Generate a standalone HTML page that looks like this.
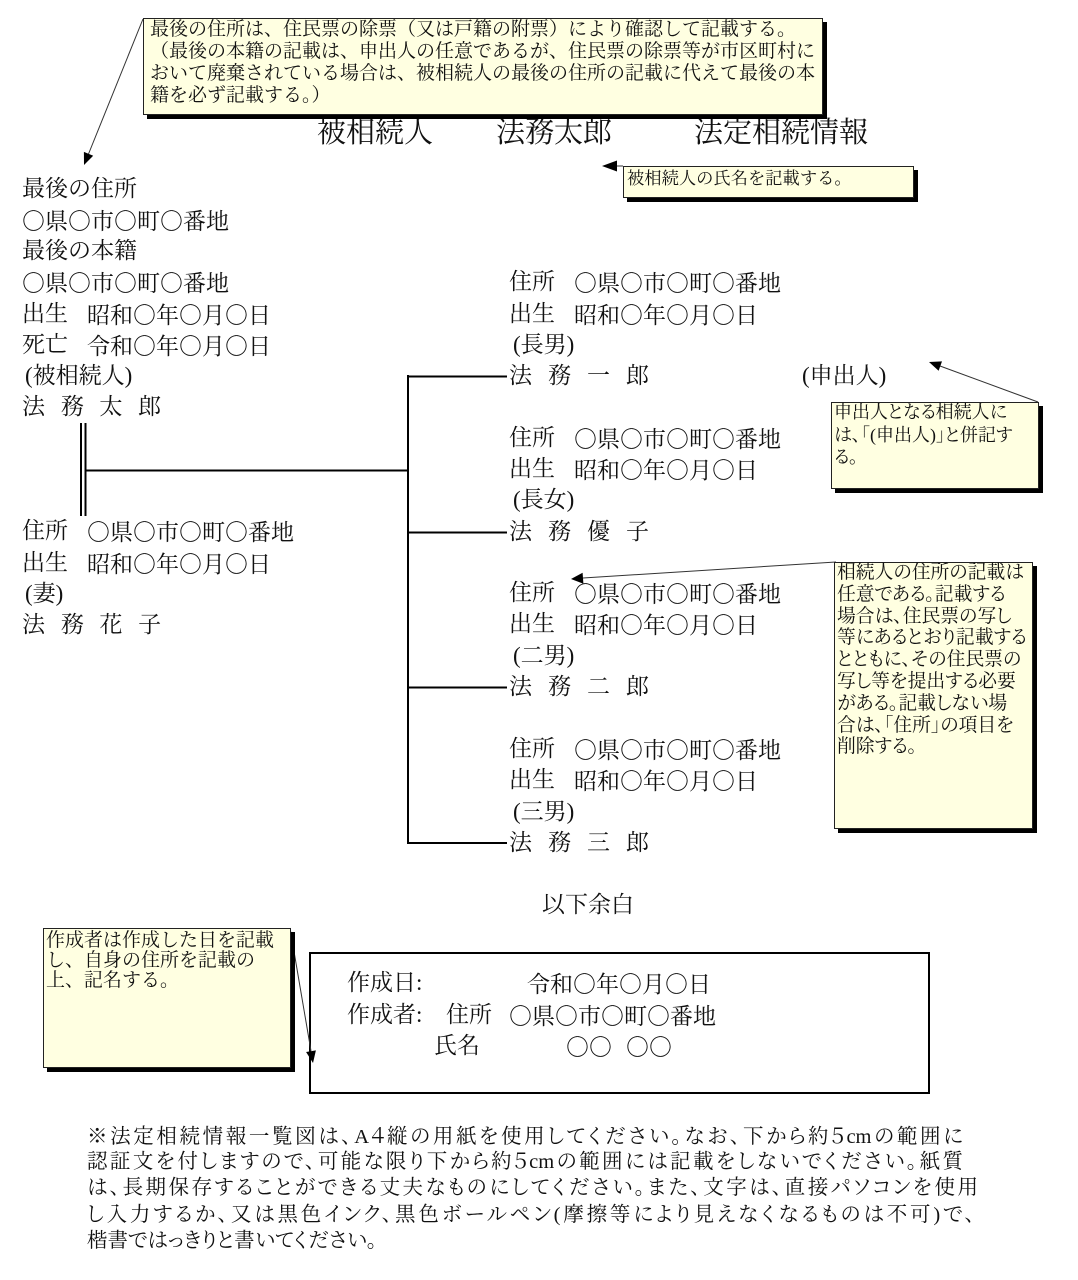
<!DOCTYPE html>
<html lang="ja"><head><meta charset="utf-8">
<style>
html,body{margin:0;padding:0;background:#fff;}
body{width:1078px;height:1280px;position:relative;overflow:hidden;font-family:"Liberation Serif","Noto Serif CJK SC",serif;color:#111;}
.t{position:absolute;white-space:nowrap;font-size:23px;line-height:30px;}
.c{font-family:"Noto Serif CJK SC","Liberation Serif",serif;}
.nm{letter-spacing:16px;}
.nl{letter-spacing:15.7px;}
.box{position:absolute;background:#ffffe1;border:1px solid #222;box-shadow:4px 4px 0 #000;box-sizing:border-box;}
.ct{position:absolute;white-space:nowrap;color:#111;}
.p{font-feature-settings:"palt";}
.note{position:absolute;left:87px;font-size:20.5px;line-height:26px;text-align:justify;text-align-last:justify;font-feature-settings:"palt";}
</style></head><body>

<svg width="1078" height="1280" style="position:absolute;left:0;top:0" xmlns="http://www.w3.org/2000/svg">
  <g stroke="#000" stroke-width="2" fill="none">
    <line x1="408" y1="375" x2="408" y2="844"/>
    <line x1="407" y1="376.5" x2="507" y2="376.5"/>
    <line x1="407" y1="532.5" x2="507" y2="532.5"/>
    <line x1="407" y1="687.5" x2="507" y2="687.5"/>
    <line x1="407" y1="843" x2="507" y2="843"/>
    <line x1="85" y1="470.5" x2="409" y2="470.5"/>
    <line x1="81" y1="423" x2="81" y2="516"/>
    <line x1="85.5" y1="423" x2="85.5" y2="516"/>
    <rect x="310" y="953" width="619" height="140"/>
  </g>
  <g stroke="#333" stroke-width="1" fill="none">
    <line x1="143" y1="19" x2="88.5" y2="154"/>
    <line x1="623" y1="166" x2="615" y2="166"/>
    <line x1="1038" y1="402" x2="940" y2="366"/>
    <line x1="836" y1="562" x2="583" y2="578"/>
    <line x1="290" y1="928" x2="311" y2="1051"/>
  </g>
  <g fill="#000">
    <polygon points="84,165 93.2,155.7 83.9,151.9"/>
    <polygon points="602,166 617,160.5 617,171.5"/>
    <polygon points="929,362 942,361.4 938.6,370.8"/>
    <polygon points="571,579 583.4,583.7 582.6,572.7"/>
    <polygon points="313,1063 315.9,1050.4 306.1,1052"/>
  </g>
</svg>

<!-- title -->
<div class="t" style="font-size:29px;line-height:36px;top:115px;left:317px;">被相続人</div>
<div class="t" style="font-size:29px;line-height:36px;top:115px;left:496px;">法務太郎</div>
<div class="t" style="font-size:29px;line-height:36px;top:115px;left:694px;">法定相続情報</div>

<!-- left column -->
<div class="t" style="left:22px;top:174px;">最後の住所</div>
<div class="t c" style="left:22px;top:205px;">○県○市○町○番地</div>
<div class="t" style="left:22px;top:236px;">最後の本籍</div>
<div class="t c" style="left:22px;top:267px;">○県○市○町○番地</div>
<div class="t" style="left:22px;top:299px;">出生</div>
<div class="t c" style="left:87px;top:299px;">昭和○年○月○日</div>
<div class="t" style="left:22px;top:330px;">死亡</div>
<div class="t c" style="left:87px;top:330px;">令和○年○月○日</div>
<div class="t" style="left:25px;top:361px;">(被相続人)</div>
<div class="t nl" style="left:22px;top:392px;">法務太郎</div>

<!-- spouse -->
<div class="t" style="left:22px;top:516px;">住所</div>
<div class="t c" style="left:87px;top:516px;">○県○市○町○番地</div>
<div class="t" style="left:22px;top:548px;">出生</div>
<div class="t c" style="left:87px;top:548px;">昭和○年○月○日</div>
<div class="t" style="left:25px;top:579px;">(妻)</div>
<div class="t nl" style="left:22px;top:610px;">法務花子</div>

<!-- child 1 -->
<div class="t" style="left:509px;top:267px;">住所</div>
<div class="t c" style="left:574px;top:267px;">○県○市○町○番地</div>
<div class="t" style="left:509px;top:299px;">出生</div>
<div class="t c" style="left:574px;top:299px;">昭和○年○月○日</div>
<div class="t" style="left:513px;top:330px;">(長男)</div>
<div class="t nm" style="left:509px;top:361px;">法務一郎</div>
<div class="t" style="left:802px;top:361px;">(申出人)</div>

<!-- child 2 -->
<div class="t" style="left:509px;top:423px;">住所</div>
<div class="t c" style="left:574px;top:423px;">○県○市○町○番地</div>
<div class="t" style="left:509px;top:454px;">出生</div>
<div class="t c" style="left:574px;top:454px;">昭和○年○月○日</div>
<div class="t" style="left:513px;top:485px;">(長女)</div>
<div class="t nm" style="left:509px;top:517px;">法務優子</div>

<!-- child 3 -->
<div class="t" style="left:509px;top:578px;">住所</div>
<div class="t c" style="left:574px;top:578px;">○県○市○町○番地</div>
<div class="t" style="left:509px;top:609px;">出生</div>
<div class="t c" style="left:574px;top:609px;">昭和○年○月○日</div>
<div class="t" style="left:513px;top:641px;">(二男)</div>
<div class="t nm" style="left:509px;top:672px;">法務二郎</div>

<!-- child 4 -->
<div class="t" style="left:509px;top:734px;">住所</div>
<div class="t c" style="left:574px;top:734px;">○県○市○町○番地</div>
<div class="t" style="left:509px;top:765px;">出生</div>
<div class="t c" style="left:574px;top:765px;">昭和○年○月○日</div>
<div class="t" style="left:513px;top:797px;">(三男)</div>
<div class="t nm" style="left:509px;top:828px;">法務三郎</div>

<div class="t" style="left:542px;top:890px;">以下余白</div>

<!-- creation box text -->
<div class="t" style="left:347px;top:968px;">作成日:</div>
<div class="t c" style="left:527px;top:968px;">令和○年○月○日</div>
<div class="t" style="left:347px;top:1000px;">作成者:</div>
<div class="t" style="left:446px;top:1000px;">住所</div>
<div class="t c" style="left:509px;top:1000px;">○県○市○町○番地</div>
<div class="t" style="left:434px;top:1031px;">氏名</div>
<div class="t c" style="left:566px;top:1031px;">○○</div>
<div class="t c" style="left:626px;top:1031px;">○○</div>

<!-- callout 1 -->
<div class="box" style="left:143px;top:18px;width:680px;height:97px;"></div>
<div class="ct" style="left:150px;top:19px;font-size:19px;line-height:22px;">最後の住所は、住民票の除票（又は戸籍の附票）により確認して記載する。<br>（最後の本籍の記載は、申出人の任意であるが、住民票の除票等が市区町村に<br>おいて廃棄されている場合は、被相続人の最後の住所の記載に代えて最後の本<br>籍を必ず記載する。）</div>

<!-- callout 2 -->
<div class="box" style="left:623px;top:166px;width:291px;height:32px;"></div>
<div class="ct" style="left:627px;top:167px;font-size:17.3px;line-height:24px;">被相続人の氏名を記載する。</div>

<!-- callout 3 -->
<div class="box" style="left:831px;top:402px;width:208px;height:87px;"></div>
<div class="ct p" style="left:834px;top:401px;font-size:18px;line-height:22.5px;">申出人となる相続人に<br>は、「(申出人)」と併記す<br>る。</div>

<!-- callout 4 -->
<div class="box" style="left:834px;top:562px;width:199px;height:267px;"></div>
<div class="ct p" style="left:837px;top:562px;font-size:18.8px;line-height:21.8px;">相続人の住所の記載は<br>任意である。記載する<br>場合は、住民票の写し<br>等にあるとおり記載する<br>とともに、その住民票の<br>写し等を提出する必要<br>がある。記載しない場<br>合は、「住所」の項目を<br>削除する。</div>

<!-- callout 5 -->
<div class="box" style="left:43px;top:928px;width:248px;height:140px;"></div>
<div class="ct" style="left:46px;top:931px;font-size:19px;line-height:20px;">作成者は作成した日を記載<br>し、自身の住所を記載の<br>上、記名する。</div>

<!-- note -->
<div class="note" style="top:1124px;width:876px;">※法定相続情報一覧図は、A４縦の用紙を使用してください。なお、下から約５cmの範囲に</div>
<div class="note" style="top:1149px;width:876px;">認証文を付しますので、可能な限り下から約５cmの範囲には記載をしないでください。紙質</div>
<div class="note" style="top:1175px;width:891px;">は、長期保存することができる丈夫なものにしてください。また、文字は、直接パソコンを使用</div>
<div class="note" style="top:1202px;width:888px;">し入力するか、又は黒色インク、黒色ボールペン(摩擦等により見えなくなるものは不可)で、</div>
<div class="note" style="top:1228px;width:400px;text-align:left;text-align-last:left;white-space:nowrap;">楷書ではっきりと書いてください。</div>

</body></html>
